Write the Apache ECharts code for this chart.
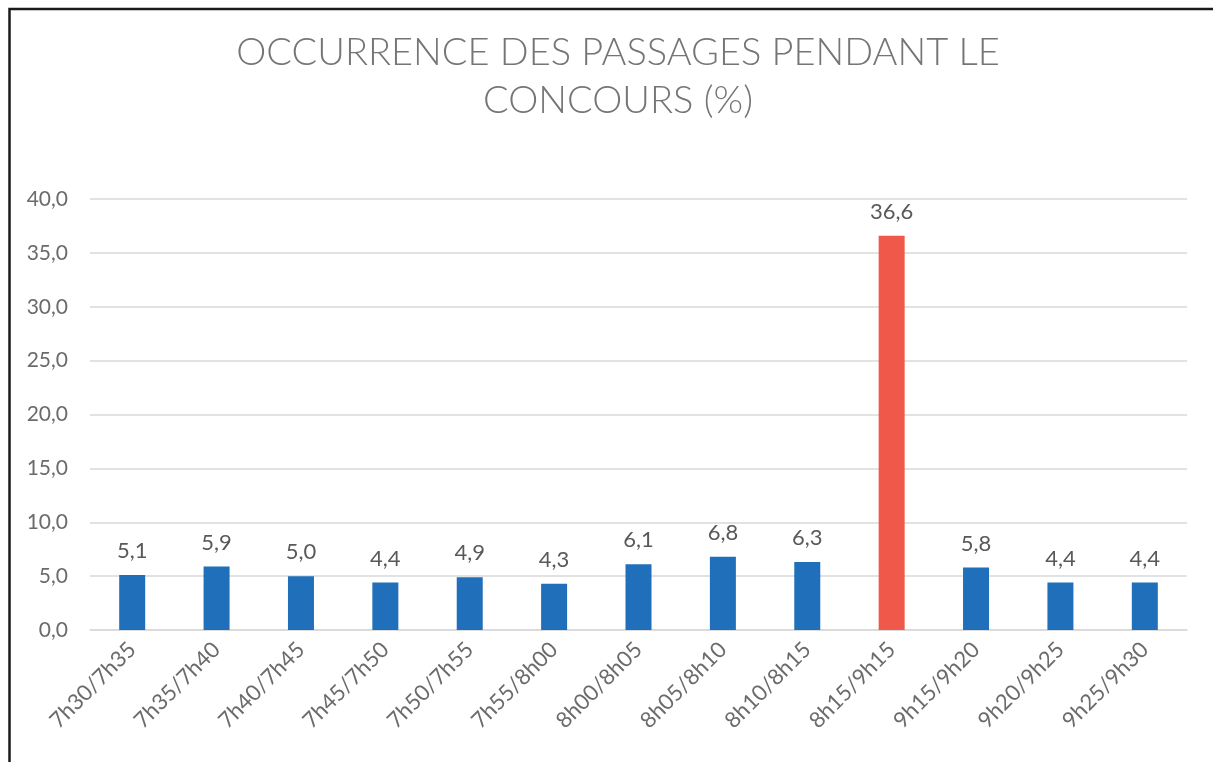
<!DOCTYPE html>
<html>
<head>
<meta charset="utf-8">
<script src="https://cdn.jsdelivr.net/npm/echarts@6/dist/echarts.min.js"></script>
<style>
  html, body { margin: 0; padding: 0; background: #fff; }
  #chart { width: 1213px; height: 762px; }
</style>
</head>
<body>
<div id="chart"></div>
<script>
// Time slots during the contest
const categories = ['7h30/7h35', '7h35/7h40', '7h40/7h45', '7h45/7h50', '7h50/7h55', '7h55/8h00',
  '8h00/8h05', '8h05/8h10', '8h10/8h15', '8h15/9h15', '9h15/9h20', '9h20/9h25', '9h25/9h30'];
// Share of passages per slot (%)
const values = [5.1, 5.9, 5.0, 4.4, 4.9, 4.3, 6.1, 6.8, 6.3, 36.6, 5.8, 4.4, 4.4];
// Highlighted slot
const highlightIndex = 9;
const yTicks = [0, 5, 10, 15, 20, 25, 30, 35, 40];

const BLUE = '#1F6FBA';
const RED = '#F0584A';
const fmt = v => v.toFixed(1).replace('.', ',');

const chart = echarts.init(document.getElementById('chart'), null, { renderer: 'canvas' });
chart.setOption({
  backgroundColor: '#fff',
  animation: false,
  graphic: [{
    type: 'rect',
    shape: { x: 9.5, y: 9, width: 1220, height: 770 },
    style: { fill: 'none', stroke: '#1a1a1a', lineWidth: 2.5 },
    silent: true
  }],
  title: {
    text: 'OCCURRENCE DES PASSAGES PENDANT LE\nCONCOURS (%)',
    left: 613,
    top: 24,
    textAlign: 'center',
    textStyle: {
      fontFamily: 'Lato',
      fontWeight: 300,
      fontSize: 38,
      lineHeight: 48,
      color: '#757575'
    }
  },
  grid: { left: 90, right: 26, top: 199, bottom: 132, containLabel: false },
  xAxis: {
    type: 'category',
    data: categories,
    axisLine: { show: true, lineStyle: { color: '#d9d9d9', width: 1.5 } },
    axisTick: { show: false },
    axisLabel: {
      rotate: 45,
      interval: 0,
      margin: 16,
      fontFamily: 'Lato',
      fontSize: 22,
      color: '#6b6b6b'
    }
  },
  yAxis: {
    type: 'value',
    min: yTicks[0],
    max: yTicks[yTicks.length - 1],
    interval: 5,
    axisLine: { show: false },
    axisTick: { show: false },
    splitLine: { lineStyle: { color: '#d9d9d9', width: 1.5 } },
    axisLabel: {
      margin: 22,
      fontFamily: 'Lato',
      fontSize: 21,
      color: '#6b6b6b',
      formatter: v => fmt(v)
    }
  },
  series: [{
    type: 'bar',
    barWidth: 26,
    data: values.map((v, i) => ({
      value: v,
      itemStyle: { color: i === highlightIndex ? RED : BLUE }
    })),
    label: {
      show: true,
      position: 'top',
      distance: 13,
      fontFamily: 'Lato',
      fontSize: 22,
      color: '#595959',
      formatter: p => fmt(p.value)
    }
  }]
});
</script>
</body>
</html>
